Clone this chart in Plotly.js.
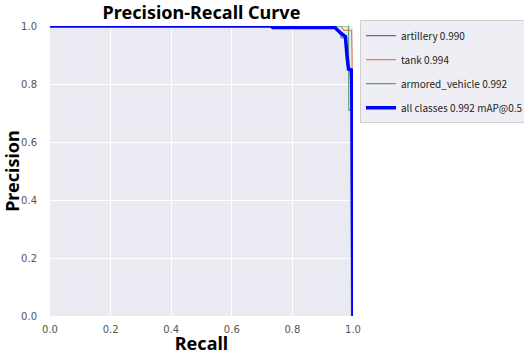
<!DOCTYPE html>
<html><head><meta charset="utf-8">
<script src="https://cdn.plot.ly/plotly-3.0.1.min.js"></script>
<style>html,body{margin:0;padding:0;background:#fff}#chart{width:524px;height:355px}</style>
</head><body><div id="chart"></div>
<script>
const artilleryRecall = [0, 0.93, 0.94, 0.96, 0.961, 0.975, 0.976, 0.98, 0.982, 0.99, 0.993, 0.995];
const artilleryPrecision = [1, 1, 0.993, 0.97, 0.96, 0.958, 0.92, 0.9, 0.86, 0.85, 0.8, 0];
const tankRecall = [0, 0.96, 0.97, 0.995, 0.997, 0.998];
const tankPrecision = [1, 1, 0.985, 0.985, 0.9, 0];
const armoredRecall = [0, 0.985, 0.986, 0.995, 0.996];
const armoredPrecision = [1, 1, 0.71, 0.71, 0];
const allRecall = [0, 0.73, 0.735, 0.94, 0.96, 0.975, 0.98, 0.982, 0.985, 0.995, 0.997, 1.0];
const allPrecision = [1, 1, 0.995, 0.995, 0.975, 0.963, 0.9, 0.86, 0.852, 0.848, 0.7, 0];
const legendNames = ['artillery 0.990', 'tank 0.994', 'armored_vehicle 0.992', 'all classes 0.992 mAP@0.5'];
const tickVals = [0, 0.2, 0.4, 0.6, 0.8, 1.0];
const tickText = ['0.0', '0.2', '0.4', '0.6', '0.8', '1.0'];

const traces = [
  {x: artilleryRecall, y: artilleryPrecision, name: legendNames[0], legendgroup: 'a', mode: 'lines', line: {color: '#4C72B0', width: 1.2}},
  {x: tankRecall, y: tankPrecision, name: legendNames[1], legendgroup: 'b', mode: 'lines', line: {color: '#DD8452', width: 1.2}},
  {x: armoredRecall, y: armoredPrecision, name: legendNames[2], legendgroup: 'c', mode: 'lines', line: {color: '#55A868', width: 1.2}},
  {x: allRecall, y: allPrecision, name: legendNames[3], legendgroup: 'd', mode: 'lines', line: {color: '#0000FF', width: 3.5}}
];
const titleFont = {family: 'Noto Sans, sans-serif', size: 18, color: '#000', weight: 'bold'};
const tickFont = {family: 'DejaVu Sans, sans-serif', size: 10, color: '#555'};
const layout = {
  width: 524, height: 355,
  margin: {l: 50, r: 171, t: 26, b: 39, autoexpand: false},
  paper_bgcolor: '#fff', plot_bgcolor: '#EAEAF2',
  title: {text: 'Precision-Recall Curve', font: titleFont, x: 0.5, xref: 'paper', y: 1 - 13/355, yref: 'container', yanchor: 'middle'},
  xaxis: {range: [0, 1], tickvals: tickVals, ticktext: tickText, tickfont: tickFont, gridcolor: '#fff', gridwidth: 1, zeroline: false, showline: false,
    ticks: 'outside', ticklen: 4, tickcolor: 'rgba(0,0,0,0)', automargin: false, title: {text: 'Recall', font: titleFont, standoff: 3}},
  yaxis: {range: [0, 1], tickvals: tickVals, ticktext: tickText, tickfont: tickFont, gridcolor: '#fff', gridwidth: 1, zeroline: false, showline: false,
    ticks: 'outside', ticklen: 10, tickcolor: 'rgba(0,0,0,0)', automargin: false, title: {text: 'Precision', font: titleFont, standoff: 2}},
  showlegend: true,
  legend: {x: 1.023, y: 1.02, xanchor: 'left', yanchor: 'top', bgcolor: '#EEEEF4', bordercolor: '#d0d0d0', borderwidth: 1,
    traceorder: 'grouped', tracegroupgap: 5,
    font: {family: 'Noto Sans CJK KR, sans-serif', size: 10, color: '#222'}}
};
Plotly.newPlot('chart', traces, layout, {displayModeBar: false, staticPlot: true});
</script></body></html>
